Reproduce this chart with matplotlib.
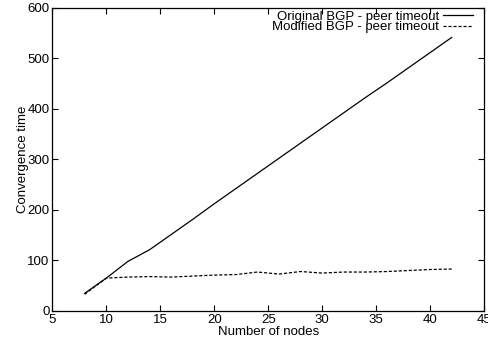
import matplotlib
matplotlib.use("Agg")
import matplotlib.pyplot as plt

nodes = [8, 10, 12, 14, 16, 18, 20, 22, 24, 26, 28, 30, 32, 34, 36, 38, 40, 42]
original = [35, 65, 98, 121, 151, 181, 212, 242, 272, 302, 332, 362, 392, 422, 451, 481, 511, 541]
modified = [33, 65, 67, 68, 67, 69, 71, 72, 77, 73, 78, 75, 77, 77, 78, 80, 82, 83]

plt.rcParams['font.family'] = ['Liberation Sans', 'DejaVu Sans']
fig = plt.figure(figsize=(4.89, 3.44), dpi=100)
ax = fig.add_axes([0.107, 0.096, 0.883, 0.882])

ax.plot(nodes, original, color='black', lw=0.9, label='Original BGP - peer timeout')
ax.plot(nodes, modified, color='black', lw=0.9, dashes=(2.5, 1.5), label='Modified BGP - peer timeout')

fs = 9.5
ax.set_xlim(5, 45)
ax.set_ylim(0, 600)
ax.set_xticks(range(5, 46, 5))
ax.set_yticks(range(0, 601, 100))
ax.tick_params(direction='in', top=True, right=True, labelsize=fs, length=4, width=0.8, pad=2)
for s in ax.spines.values():
    s.set_linewidth(0.9)
ax.set_xlabel('Number of nodes', fontsize=fs, labelpad=0)
ax.set_ylabel('Convergence time', fontsize=fs, labelpad=-1)
leg = ax.legend(loc='upper right', bbox_to_anchor=(0.974, 0.99), frameon=False, markerfirst=False,
                fontsize=fs, labelspacing=-0.12, handlelength=2.3, handletextpad=0.25,
                borderaxespad=0.0, borderpad=0.0)
for t in leg.get_texts():
    t.set_ha('right')
fig.savefig('out.png', dpi=100)
